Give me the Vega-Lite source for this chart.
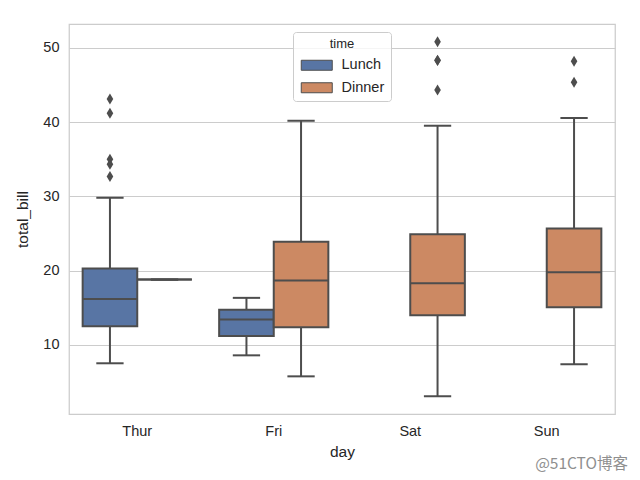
{
  "$schema": "https://vega.github.io/schema/vega-lite/v6.json",
  "width": 546,
  "height": 390,
  "autosize": {"type": "none"},
  "padding": {"left": 69, "top": 24, "right": 25, "bottom": 66},
  "background": "white",
  "title": {"text": "@51CTO博客", "orient": "bottom", "anchor": "end", "dx": 13, "offset": -3, "font": "Noto Sans CJK SC", "fontSize": 15.5, "fontWeight": "normal", "color": "#8f8f8f"},
  "datasets": {
    "boxes": [
      {"day": "Thur", "time": "Lunch", "lo": 7.51, "q1": 12.5, "med": 16.15, "q3": 20.27, "hi": 29.8},
      {"day": "Thur", "time": "Dinner", "lo": 18.78, "q1": 18.78, "med": 18.78, "q3": 18.78, "hi": 18.78},
      {"day": "Fri", "time": "Lunch", "lo": 8.58, "q1": 11.17, "med": 13.42, "q3": 14.73, "hi": 16.32},
      {"day": "Fri", "time": "Dinner", "lo": 5.75, "q1": 12.37, "med": 18.66, "q3": 23.87, "hi": 40.17},
      {"day": "Sat", "time": "Dinner", "lo": 3.07, "q1": 13.99, "med": 18.3, "q3": 24.9, "hi": 39.5},
      {"day": "Sun", "time": "Dinner", "lo": 7.39, "q1": 15.06, "med": 19.78, "q3": 25.66, "hi": 40.55}
    ],
    "outliers": [
      {"day": "Thur", "time": "Lunch", "total_bill": 43.11},
      {"day": "Thur", "time": "Lunch", "total_bill": 41.19},
      {"day": "Thur", "time": "Lunch", "total_bill": 35.0},
      {"day": "Thur", "time": "Lunch", "total_bill": 34.3},
      {"day": "Thur", "time": "Lunch", "total_bill": 32.68},
      {"day": "Sat", "time": "Dinner", "total_bill": 50.81},
      {"day": "Sat", "time": "Dinner", "total_bill": 48.33},
      {"day": "Sat", "time": "Dinner", "total_bill": 48.27},
      {"day": "Sat", "time": "Dinner", "total_bill": 44.3},
      {"day": "Sun", "time": "Dinner", "total_bill": 48.17},
      {"day": "Sun", "time": "Dinner", "total_bill": 45.35}
    ]
  },
  "encoding": {
    "x": {
      "field": "day", "type": "nominal", "sort": ["Thur", "Fri", "Sat", "Sun"],
      "scale": {"domain": ["Thur", "Fri", "Sat", "Sun"], "paddingInner": 0, "paddingOuter": 0},
      "axis": {"title": "day", "labelAngle": 0, "ticks": false, "domain": false, "grid": false, "labelPadding": 10, "titlePadding": 7}
    },
    "xOffset": {
      "field": "time", "type": "nominal",
      "scale": {"domain": ["Lunch", "Dinner"], "paddingInner": 0, "paddingOuter": 0.25}
    }
  },
  "layer": [
    {
      "data": {"name": "boxes"},
      "mark": {"type": "rule", "color": "#4d4d4d", "strokeWidth": 2},
      "encoding": {
        "y": {"field": "lo", "type": "quantitative", "title": "total_bill",
          "scale": {"domain": [0.68, 53.2], "nice": false, "zero": false},
          "axis": {"values": [10, 20, 30, 40, 50], "grid": true, "ticks": false, "domain": false, "labelPadding": 10, "titlePadding": 12}},
        "y2": {"field": "hi"}
      }
    },
    {
      "data": {"name": "boxes"},
      "mark": {"type": "tick", "color": "#4d4d4d", "thickness": 2, "size": 27.3, "orient": "horizontal", "opacity": 1},
      "encoding": {"y": {"field": "lo", "type": "quantitative"}}
    },
    {
      "data": {"name": "boxes"},
      "mark": {"type": "tick", "color": "#4d4d4d", "thickness": 2, "size": 27.3, "orient": "horizontal", "opacity": 1},
      "encoding": {"y": {"field": "hi", "type": "quantitative"}}
    },
    {
      "data": {"name": "boxes"},
      "mark": {"type": "bar", "stroke": "#4d4d4d", "strokeWidth": 2, "opacity": 1},
      "encoding": {
        "y": {"field": "q1", "type": "quantitative"},
        "y2": {"field": "q3"},
        "color": {
          "field": "time", "type": "nominal",
          "scale": {"domain": ["Lunch", "Dinner"], "range": ["#5875a4", "#cc8963"]},
          "legend": {
            "title": "time", "orient": "none", "legendX": 224, "legendY": 8,
            "titleFontSize": 13, "titleFontWeight": "normal", "titleColor": "#262626", "titleFont": "Liberation Sans",
            "titleAnchor": "middle", "titleAlign": "center", "titlePadding": 7,
            "labelFontSize": 14.5, "labelColor": "#262626", "labelFont": "Liberation Sans", "labelOffset": 28,
            "symbolType": "M-1,-1H5.2V1H-1Z", "symbolSize": 100, "symbolStrokeColor": "#4d4d4d", "symbolStrokeWidth": 1, "symbolOpacity": 1,
            "rowPadding": 6.5, "padding": 6, "fillColor": "rgba(255,255,255,0.8)", "strokeColor": "#cccccc", "cornerRadius": 3
          }
        }
      }
    },
    {
      "data": {"name": "boxes"},
      "mark": {"type": "tick", "color": "#4d4d4d", "thickness": 2, "size": 54.6, "orient": "horizontal", "opacity": 1},
      "encoding": {"y": {"field": "med", "type": "quantitative"}}
    },
    {
      "data": {"name": "outliers"},
      "mark": {"type": "point", "shape": "M0,-1L0.6,0L0,1L-0.6,0Z", "filled": true, "color": "#4d4d4d", "size": 121, "opacity": 1},
      "encoding": {"y": {"field": "total_bill", "type": "quantitative"}}
    }
  ],
  "config": {
    "font": "Liberation Sans",
    "view": {"stroke": "#cccccc", "strokeWidth": 1.25},
    "axis": {"labelFontSize": 14.5, "titleFontSize": 15.5, "titleFontWeight": "normal", "labelColor": "#262626", "titleColor": "#262626", "gridColor": "#cccccc", "gridWidth": 1, "labelFont": "Liberation Sans", "titleFont": "Liberation Sans"}
  }
}
